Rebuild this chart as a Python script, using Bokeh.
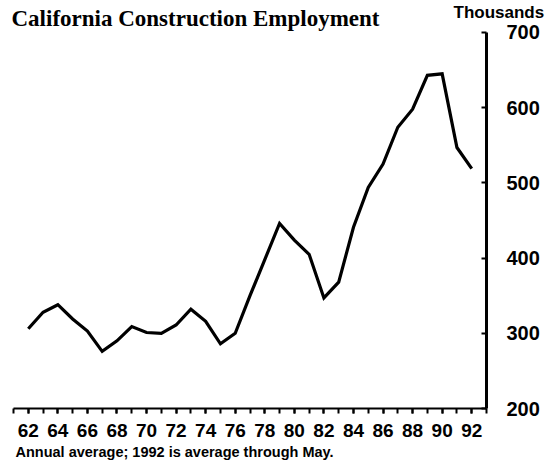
from bokeh.plotting import figure
from bokeh.models import Range1d, FixedTicker, Label, LinearAxis, Title
from bokeh.embed import file_html
from bokeh.resources import INLINE

# ---- data ----
years = list(range(1962, 1993))
employment = [306, 328, 338, 319, 303, 276, 290, 309, 301, 300,
              311, 332, 316, 286, 300, 350, 398, 446, 424, 405,
              347, 368, 441, 494, 525, 574, 598, 643, 645, 547, 519]
label_years = list(range(1962, 1993, 2))
tick_labels = ["62", "64", "66", "68", "70", "72", "74", "76",
               "78", "80", "82", "84", "86", "88", "90", "92"]
y_ticks = [200, 300, 400, 500, 600, 700]

title_text = "California Construction Employment"
unit_text = "Thousands"
note_text = "Annual average; 1992 is average through May."

SANS = "Liberation Sans"

p = figure(width=547, height=467, output_backend="svg", toolbar_location=None,
           title_location=None,
           x_range=Range1d(1960.12, 1993), y_range=Range1d(200, 742.5),
           y_axis_location="right",
           min_border_left=0, min_border_right=0, min_border_top=0,
           min_border_bottom=59)
p.outline_line_color = None
p.xgrid.visible = False
p.ygrid.visible = False
p.background_fill_color = "white"
p.border_fill_color = "white"

p.line(years, employment, line_color="black", line_width=3.2,
       line_join="miter")

# x axis
xa = p.xaxis[0]
xa.axis_label = None
xa.bounds = (1961, 1993)
xa.ticker = FixedTicker(ticks=label_years,
                        minor_ticks=list(range(1961, 1994)))
xa.major_label_overrides = {y: t for y, t in zip(label_years, tick_labels)}
xa.axis_line_width = 2
xa.axis_line_color = "black"
xa.major_tick_in = 0
xa.major_tick_out = 5
xa.minor_tick_in = 0
xa.minor_tick_out = 5
xa.major_tick_line_width = 2
xa.minor_tick_line_width = 2
xa.major_label_standoff = 10
xa.major_label_text_font = SANS
xa.major_label_text_font_style = "bold"
xa.major_label_text_font_size = "19px"
xa.major_label_text_color = "black"

# y axis (right)
ya = p.yaxis[0]
ya.axis_label = None
ya.bounds = (200, 700)
ya.ticker = FixedTicker(ticks=y_ticks, minor_ticks=[])
ya.axis_line_width = 3
ya.axis_line_color = "black"
ya.major_tick_in = 5
ya.major_tick_out = 0
ya.major_tick_line_width = 2
ya.minor_tick_in = 0
ya.minor_tick_out = 0
ya.major_label_standoff = 20
ya.major_label_text_font = SANS
ya.major_label_text_font_style = "bold"
ya.major_label_text_font_size = "20px"
ya.major_label_text_color = "black"

# unit label as an extra right axis with a single labelled tick
unit_axis = LinearAxis(ticker=FixedTicker(ticks=[727], minor_ticks=[]),
                       axis_label=None, axis_label_standoff=0,
                       major_label_overrides={727: unit_text},
                       axis_line_color=None, major_tick_line_color=None,
                       minor_tick_line_color=None,
                       major_tick_in=0, major_tick_out=0,
                       minor_tick_in=0, minor_tick_out=0,
                       major_label_standoff=-89,
                       major_label_text_font=SANS,
                       major_label_text_font_style="bold",
                       major_label_text_font_size="17px",
                       major_label_text_color="black")
p.add_layout(unit_axis, "right")

# chart title inside the frame area
p.add_layout(Label(x=1961, y=700, x_offset=-2, y_offset=14, text=title_text,
                   text_font="Liberation Serif", text_font_style="bold",
                   text_font_size="23px", text_color="black",
                   text_baseline="alphabetic", text_align="left"))

# footnote
p.add_layout(Title(text=note_text, align="left", offset=15, standoff=5,
                   text_font=SANS, text_font_style="bold",
                   text_font_size="14.5px", text_color="black"), "below")

open("out.html", "w").write(file_html(p, INLINE))
